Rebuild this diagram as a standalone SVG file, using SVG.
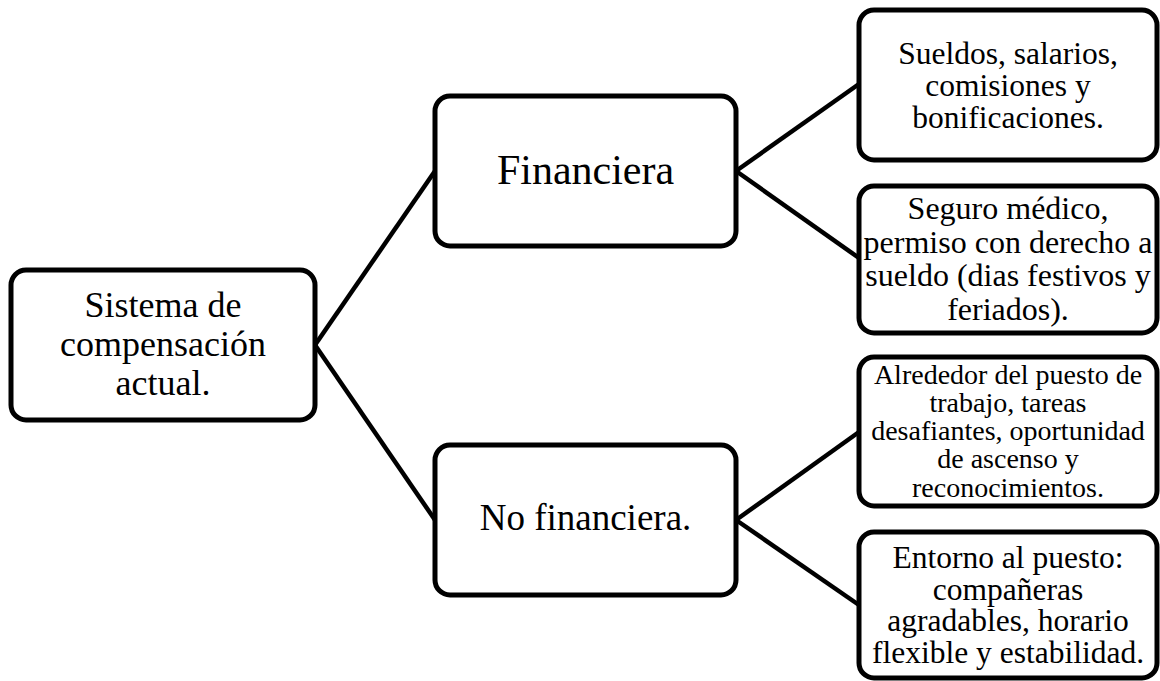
<svg xmlns="http://www.w3.org/2000/svg" width="1160" height="681" viewBox="0 0 1160 681">
<style>
.box{fill:#fff;stroke:#000;stroke-width:5}
.ln{stroke:#000;stroke-width:4.5;fill:none}
text{font-family:"Liberation Serif","Times New Roman",serif;fill:#000;text-anchor:middle}
</style>
<rect width="1160" height="681" fill="#fff"/>
<g id="connectors">
<line class="ln" x1="315" y1="345" x2="435" y2="171"/>
<line class="ln" x1="315" y1="345" x2="435" y2="520"/>
<line class="ln" x1="736" y1="171" x2="859" y2="84"/>
<line class="ln" x1="736" y1="171" x2="859" y2="258"/>
<line class="ln" x1="736" y1="520" x2="859" y2="432"/>
<line class="ln" x1="736" y1="520" x2="859" y2="605"/>
</g>
<g id="root">
<rect class="box" x="11" y="270" width="304" height="150" rx="15"/>
<text font-size="36"><tspan x="163" y="317">Sistema de</tspan><tspan x="163" y="356">compensación</tspan><tspan x="163" y="395">actual.</tspan></text>
</g>
<g id="financiera">
<rect class="box" x="435" y="96" width="301" height="150" rx="15"/>
<text font-size="42" x="585.5" y="184">Financiera</text>
</g>
<g id="nofinanciera">
<rect class="box" x="435" y="445" width="301" height="150" rx="15"/>
<text font-size="37" x="585.5" y="530">No financiera.</text>
</g>
<g id="sueldos">
<rect class="box" x="859" y="10" width="298" height="150" rx="15"/>
<text font-size="31.5"><tspan x="1008" y="64">Sueldos, salarios,</tspan><tspan x="1008" y="96">comisiones y</tspan><tspan x="1008" y="128">bonificaciones.</tspan></text>
</g>
<g id="seguro">
<rect class="box" x="859" y="186" width="298" height="147" rx="15"/>
<text font-size="32"><tspan x="1008" y="219">Seguro médico,</tspan><tspan x="1008" y="253">permiso con derecho a</tspan><tspan x="1008" y="286">sueldo (dias festivos y</tspan><tspan x="1008" y="320">feriados).</tspan></text>
</g>
<g id="alrededor">
<rect class="box" x="859" y="357" width="298" height="149" rx="15"/>
<text font-size="28"><tspan x="1008" y="384">Alrededor del puesto de</tspan><tspan x="1008" y="412">trabajo, tareas</tspan><tspan x="1008" y="440">desafiantes, oportunidad</tspan><tspan x="1008" y="468">de ascenso y</tspan><tspan x="1008" y="497">reconocimientos.</tspan></text>
</g>
<g id="entorno">
<rect class="box" x="859" y="532" width="298" height="146" rx="15"/>
<text font-size="31.5"><tspan x="1008" y="568">Entorno al puesto:</tspan><tspan x="1008" y="599.5">compañeras</tspan><tspan x="1008" y="631">agradables, horario</tspan><tspan x="1008" y="662.5">flexible y estabilidad.</tspan></text>
</g>
</svg>
